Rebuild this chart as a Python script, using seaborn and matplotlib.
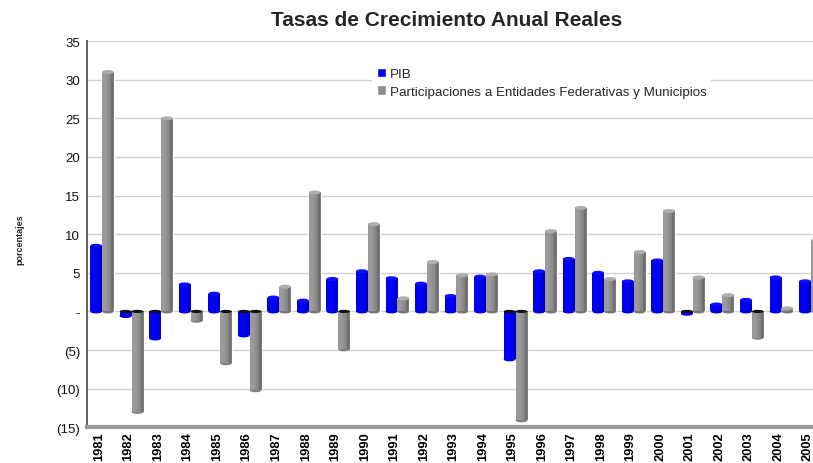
import numpy as np
import pandas as pd
import matplotlib
matplotlib.use("Agg")
import matplotlib.pyplot as plt
import matplotlib.transforms as mtransforms
from matplotlib.patches import Ellipse
import seaborn as sns
from matplotlib.ticker import FuncFormatter
from matplotlib.colors import to_rgb

# Annual real growth rates (percent)
years = [str(y) for y in range(1981, 2006)]
pib = [8.5, -0.6, -3.5, 3.5, 2.3, -3.1, 1.8, 1.4, 4.2, 5.2, 4.3, 3.6, 2.0,
       4.5, -6.2, 5.2, 6.8, 5.0, 3.9, 6.6, -0.3, 0.9, 1.5, 4.4, 3.9]
participaciones = [31.0, -13.0, 25.0, -1.2, -6.7, -10.2, 3.2, 15.4, -4.9, 11.3,
                   1.7, 6.4, 4.7, 4.8, -14.1, 10.4, 13.4, 4.2, 7.7, 13.0, 4.4,
                   2.1, -3.4, 0.4, 9.2]
series_names = ["PIB", "Participaciones a Entidades Federativas y Municipios"]
series_colors = ["#0000FF", "#8C8C8C"]
y_ticks = [-15, -10, -5, 0, 5, 10, 15, 20, 25, 30, 35]

df = pd.DataFrame({
    "Año": years * 2,
    "Serie": [series_names[0]] * len(years) + [series_names[1]] * len(years),
    "Valor": pib + participaciones,
})

sns.set_theme(style="white")
plt.rcParams["font.family"] = ["Liberation Sans", "DejaVu Sans"]

W, H = 813, 464
fig = plt.figure(figsize=(W / 100, H / 100), dpi=100)
ax = fig.add_axes([87.2 / W, 1 - 428.3 / H, 738.5 / W, (428.3 - 42.1) / H])

sns.barplot(data=df, x="Año", y="Valor", hue="Serie", order=years,
            hue_order=series_names, palette=series_colors, saturation=1,
            width=0.8, ax=ax, zorder=3)

ax.set_xlim(-0.5, len(years) - 0.5)
ax.set_ylim(-15, 35)

# vertical size of one pixel in data units, used for the cylinder caps
px = 50 / (428.3 - 42.1)
cap_h = 4 * px

# cylinder-like horizontal shading and rounded caps on every bar
profiles = {
    0: [0.82, 0.95, 1.0, 1.0, 0.97, 0.9, 0.8, 0.72],
    1: [1.08, 1.12, 1.10, 1.05, 1.0, 0.95, 0.72, 0.95],
}
for idx, container in enumerate(ax.containers):
    base = np.array(to_rgb(series_colors[idx]))
    prof = np.array(profiles[idx])
    xs = np.linspace(0, 1, 40)
    fac = np.interp(xs, np.linspace(0, 1, len(prof)), prof)
    img = np.clip(base[None, :] * fac[:, None], 0, 1)
    if idx == 0:
        img[:, 0] = 0.0
        img[:, 1] = 0.0
        img[:, 2] = np.clip(fac, 0, 1)
    img = img[None, :, :]
    cap_color = np.clip(base * 1.15 + 0.05, 0, 1)
    for bar in container:
        x0, y0 = bar.get_x(), bar.get_y()
        w, h = bar.get_width(), bar.get_height()
        if h == 0:
            continue
        lo, hi = min(y0, y0 + h), max(y0, y0 + h)
        im = ax.imshow(img, extent=[x0, x0 + w, lo, hi],
                       aspect="auto", interpolation="bilinear", zorder=3.5)
        im.set_clip_path(bar)
        cx = x0 + w / 2
        if h > 0:
            ax.add_patch(Ellipse((cx, hi), w, cap_h, facecolor=cap_color,
                                 edgecolor="none", zorder=3.6))
            ax.add_patch(Ellipse((cx, lo), w, cap_h, facecolor=base * 0.85,
                                 edgecolor="none", zorder=3.4))
        else:
            ax.add_patch(Ellipse((cx, lo), w, cap_h, facecolor=base * 0.9,
                                 edgecolor="none", zorder=3.4))
            ax.add_patch(Ellipse((cx, hi), w, cap_h * 0.8, facecolor="#111111",
                                 edgecolor="none", zorder=3.6))

ax.set_xlim(-0.5, len(years) - 0.5)
ax.set_ylim(-15, 35)
ax.set_yticks(y_ticks)


def paren_fmt(v, pos):
    if abs(v) < 1e-9:
        return "-"
    if v < 0:
        return f"({abs(v):.0f})"
    return f"{v:.0f}"


ax.yaxis.set_major_formatter(FuncFormatter(paren_fmt))
ax.yaxis.grid(True, color="#d2d2d2", linewidth=1.0, zorder=0)
ax.xaxis.grid(False)
ax.set_axisbelow(True)

for side in ("top", "right"):
    ax.spines[side].set_visible(False)
ax.spines["left"].set_color("#555555")
ax.spines["left"].set_linewidth(1.3)
ax.spines["bottom"].set_color("#9a9a9a")
ax.spines["bottom"].set_linewidth(3.0)

ax.tick_params(axis="y", length=0, pad=5, labelsize=9.5, labelcolor="#111111")
ax.tick_params(axis="x", length=0, pad=3, labelsize=9.3, labelcolor="#000000")
shift = mtransforms.ScaledTranslation(-3 / 100, 0, fig.dpi_scale_trans)
for lbl in ax.get_xticklabels():
    lbl.set_rotation(90)
    lbl.set_fontweight("bold")
    lbl.set_va("top")
    lbl.set_transform(lbl.get_transform() + shift)

ax.set_xlabel("")
ax.set_ylabel("")

handles, labels = ax.get_legend_handles_labels()
ax.legend(handles, labels, loc="upper left",
          bbox_to_anchor=(372 / W, 1 - 64 / H), bbox_transform=fig.transFigure,
          frameon=True, facecolor="white", edgecolor="none", framealpha=1,
          fancybox=False, fontsize=9.6, handlelength=0.7, handleheight=0.7,
          handletextpad=0.3, labelspacing=0.4, borderpad=0.35,
          borderaxespad=0)

fig.text(447 / W, 1 - 21 / H, "Tasas de Crecimiento Anual Reales",
         ha="center", va="center", fontsize=15, fontweight="bold")
fig.text(20 / W, 1 - 240 / H, "porcentajes", rotation=90,
         ha="center", va="center", fontsize=6.5, fontweight="bold")

fig.savefig("out.png", dpi=100)
